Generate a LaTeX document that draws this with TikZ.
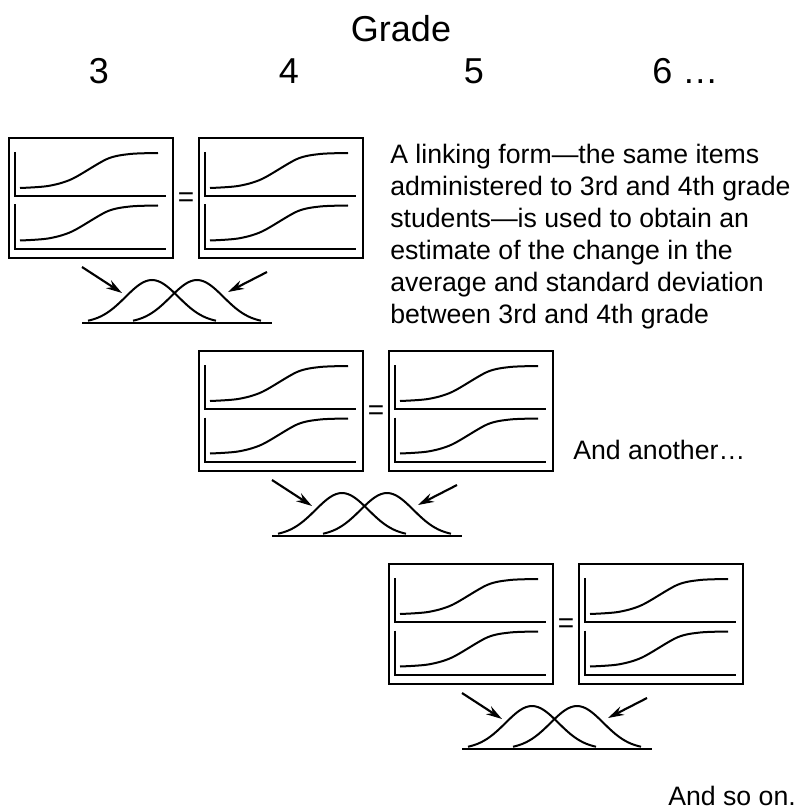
\documentclass[tikz,border=0pt]{standalone}
\usepackage{fontspec}
\setmainfont{Liberation Sans}
\usetikzlibrary{arrows.meta}

\begin{document}
\begin{tikzpicture}[
  x=0.75pt,y=-0.75pt,
  form/.style={rectangle,draw,line width=1.6pt,minimum width=123pt,minimum height=90pt,inner sep=0pt},
  axis/.style={line width=1.5pt},
  curve/.style={line width=1.5pt},
  arrow/.style={-{Stealth[length=12pt,width=7pt]},line width=1.6pt},
  eqsign/.style={font=\fontsize{21}{24}\selectfont,inner sep=0pt},
  head/.style={font=\fontsize{27}{32}\selectfont,inner sep=0pt},
  label/.style={font=\fontsize{20}{24}\selectfont,align=left,inner sep=0pt},
]
\useasboundingbox (0,0) rectangle (795,809);

% grade heading
\node[head,anchor=base] (grade) at (401,42) {Grade};
\node[head,anchor=base] (g3) at (99,84) {3};
\node[head,anchor=base] (g4) at (289,84) {4};
\node[head,anchor=base] (g5) at (474,84) {5};
\node[head,anchor=base west] (g6) at (652,84) {6 …};

% one linking step per row
\foreach \row in {0,1,2}{
  \begin{scope}[shift={(190*\row,213*\row)}]
    \node[form] (lf\row) at (91,198) {};
    \node[form] (rf\row) at (281,198) {};
    \node[eqsign] (eq\row) at (186,200) {=};
    \foreach \fx in {9,199}{
      \foreach \py in {138,190.5}{
        \draw[axis] (\fx+6,\py+14) -- (\fx+6,\py+58) -- (\fx+157,\py+58);
        \draw[curve] plot[smooth,tension=0.5] coordinates {(\fx+11,\py+50) (\fx+39,\py+48) (\fx+63,\py+41)
          (\fx+98,\py+21) (\fx+121,\py+16) (\fx+149,\py+15)};
      }
    }
    % the two distributions
    \draw[curve] (82,323) -- (272,323);
    \foreach \cx in {152,197}
      \draw[curve] plot[domain=-64:64,samples=41,smooth] ({\cx+\x},{323-43*exp(-(\x*\x)/1400)});
    \coordinate (la\row) at (82,267);
    \coordinate (lb\row) at (122,293);
    \coordinate (ra\row) at (267,272);
    \coordinate (rb\row) at (228,292);
    \draw[arrow] (la\row) -- (lb\row);
    \draw[arrow] (ra\row) -- (rb\row);
  \end{scope}
}

\node[label,anchor=north west] (note) at (390,144) {A linking form—the same items\\
  administered to 3rd and 4th grade\\
  students—is used to obtain an\\
  estimate of the change in the\\
  average and standard deviation\\
  between 3rd and 4th grade};
\node[label,anchor=base west] (more) at (573,459) {And another…};
\node[label,anchor=base west] (soon) at (668,805) {And so on.};

\end{tikzpicture}
\end{document}
